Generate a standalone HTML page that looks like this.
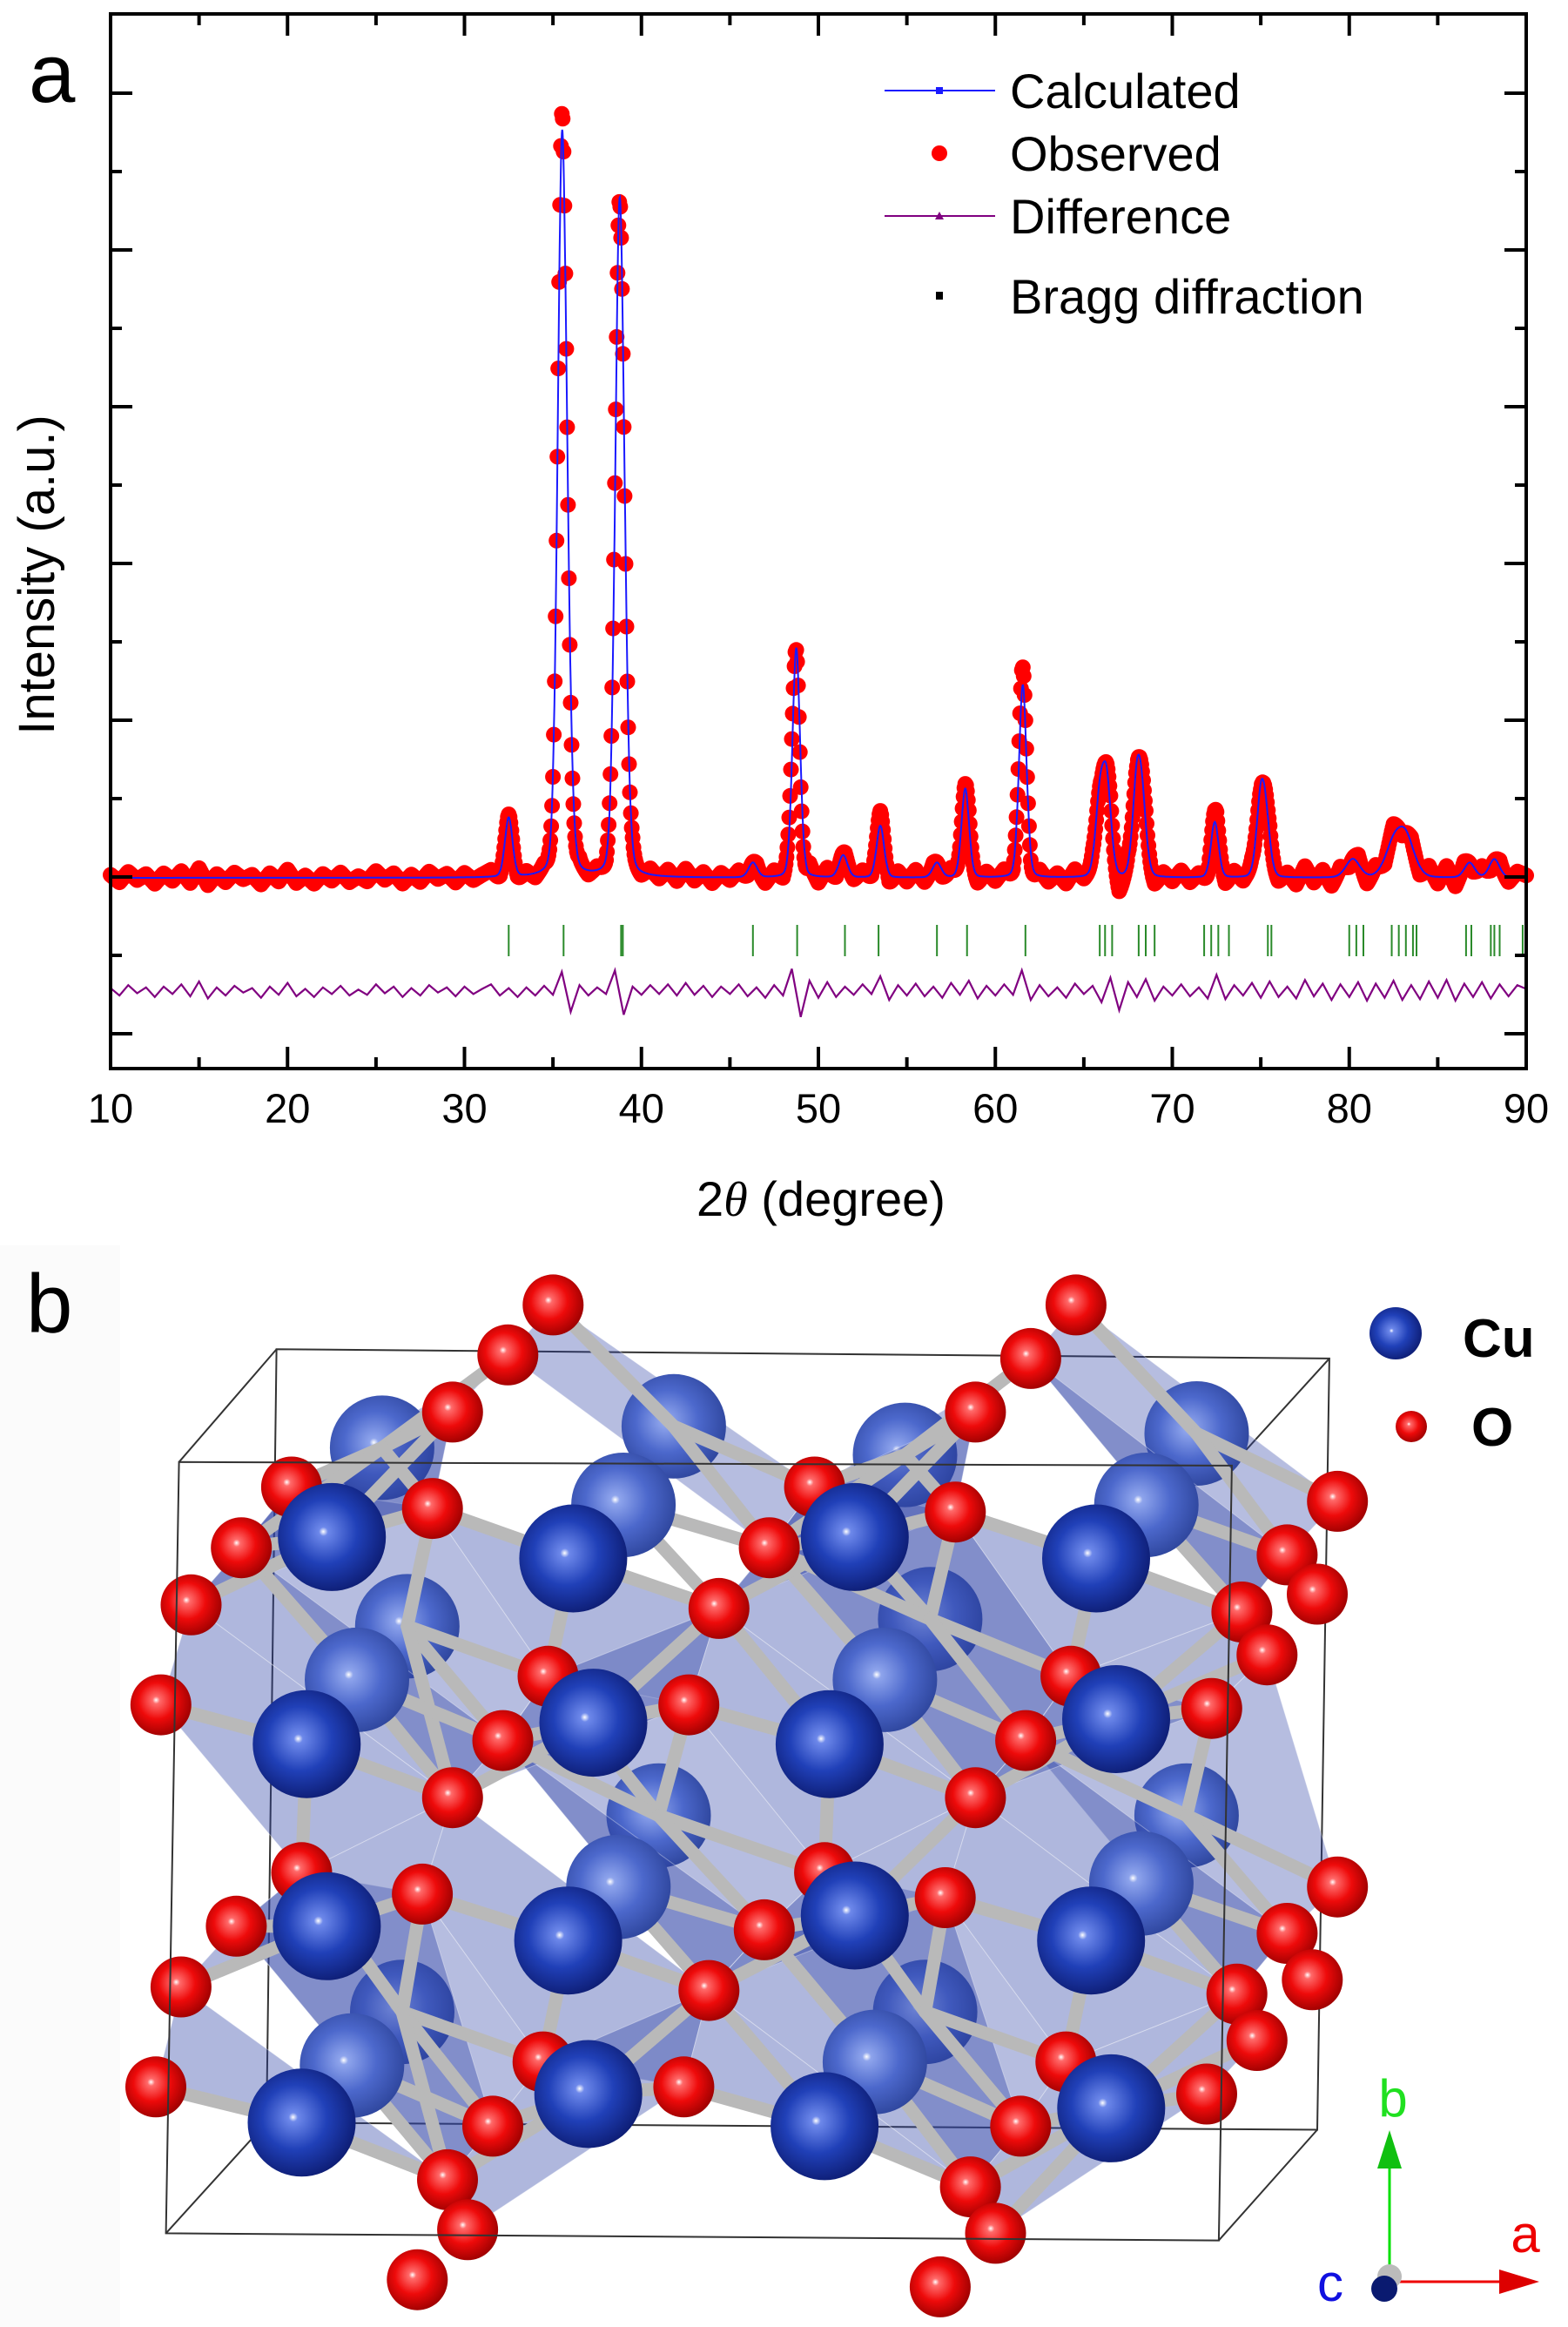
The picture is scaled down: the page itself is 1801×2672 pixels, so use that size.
<!DOCTYPE html>
<html><head><meta charset="utf-8"><style>
html,body{margin:0;padding:0;background:#fff;}
svg{display:block;font-family:"Liberation Sans",Arial,sans-serif;}
</style></head><body>
<svg id="fig" width="1801" height="2672" viewBox="0 0 1801 2672" xmlns="http://www.w3.org/2000/svg">
<defs>
<radialGradient id="gCu" cx="0.45" cy="0.45" r="0.6" fx="0.42" fy="0.45"><stop offset="0" stop-color="#ffffff"/><stop offset="0.07" stop-color="#6d88ea"/><stop offset="0.5" stop-color="#2040b8"/><stop offset="1" stop-color="#0c1a6e"/></radialGradient>
<radialGradient id="gCuL" cx="0.45" cy="0.45" r="0.6" fx="0.42" fy="0.45"><stop offset="0" stop-color="#ffffff"/><stop offset="0.07" stop-color="#8ea4ec"/><stop offset="0.5" stop-color="#4c68cc"/><stop offset="1" stop-color="#2c4399"/></radialGradient>
<radialGradient id="gO" cx="0.45" cy="0.45" r="0.6" fx="0.42" fy="0.42"><stop offset="0" stop-color="#ffffff"/><stop offset="0.1" stop-color="#ff6a6a"/><stop offset="0.5" stop-color="#ee0a0a"/><stop offset="1" stop-color="#960000"/></radialGradient>
</defs>
<g id="panelA"></g>
<g id="panelB"></g>
</svg>
<script>
// ---- chart data ----
const xTicks = [10,20,30,40,50,60,70,80,90];
const peakPos = [32.5,35.5,35.8,38.75,39.0,46.3,48.75,51.4,53.5,56.7,58.3,61.55,65.9,66.3,68.0,68.3,72.4,75.0,75.3,80.2,82.5,83.2,86.8,88.2];
const peakHeight = [8,92,18,82,16,2,31,3,7,2,12,26,10,12,12,8,7.5,10,6,2.5,4,5,2,2.5];
const peakWidth = [0.22,0.25,0.25,0.25,0.25,0.25,0.22,0.25,0.22,0.25,0.22,0.22,0.25,0.25,0.25,0.25,0.22,0.25,0.25,0.4,0.5,0.5,0.3,0.3];
const diffStart = 10;
const diffStep = 0.5;
const diffValues = [
0.4,-0.6,0.8,-0.3,0.5,-0.8,0.6,-0.4,0.9,-0.7,1.3,-1.0,0.5,-0.6,0.7,-0.2,0.4,-0.9,0.6,-0.5,
1.1,-0.7,0.3,-0.8,0.5,-0.4,0.7,-0.6,0.2,-0.5,0.9,-0.3,0.6,-0.8,0.4,-0.6,0.8,-0.2,0.5,-0.7,
0.6,-0.4,0.3,0.9,-0.6,0.4,-0.8,0.5,-0.6,0.7,-0.5,2.6,-2.8,0.8,-0.6,0.5,-0.4,2.8,-3.2,0.6,
-0.5,0.8,-0.4,0.9,-0.6,1.1,-0.5,0.7,-0.8,0.6,-0.4,0.9,-0.7,0.5,-0.9,0.8,-0.6,3.0,-3.5,1.4,
-0.9,1.2,-0.8,0.6,-0.5,0.9,-0.4,2.0,-1.2,0.8,-0.6,1.0,-0.7,0.6,-0.9,1.1,-0.5,1.4,-1.0,0.7,
-0.6,0.9,-0.5,2.8,-1.2,0.8,-0.7,0.5,-0.9,1.0,-0.4,0.7,-1.5,1.8,-2.6,1.2,-0.8,1.6,-1.3,0.6,
-0.6,0.9,-0.7,0.5,-1.0,2.2,-1.1,0.8,-0.6,1.1,-0.9,1.3,-0.8,0.6,-1.0,1.5,-0.7,1.0,-1.2,0.9,
-0.8,1.2,-1.3,1.0,-0.9,1.4,-1.2,0.8,-1.1,1.3,-0.9,1.5,-1.3,1.0,-0.8,1.2,-1.0,0.9,-0.7,0.8,
0.3];
const braggPos = [32.5,35.6,38.85,38.95,46.3,48.8,51.5,53.4,56.7,58.4,61.7,65.9,66.2,66.6,68.1,68.5,69.0,71.8,72.2,72.6,73.2,75.4,75.6,80.0,80.4,80.8,82.4,82.8,83.2,83.6,83.8,86.6,86.9,88.0,88.2,88.5,89.8];

const NS = "http://www.w3.org/2000/svg";
function mk(tag, attrs, parent){const e=document.createElementNS(NS,tag);for(const k in attrs)e.setAttribute(k,attrs[k]);parent.appendChild(e);return e;}

const L=127,R=1753,T=16,B=1227;
const xS = v => L + (v-10)*(R-L)/80;
const I0 = 1008, IK = 8.5;
const yS = I => I0 - I*IK;
const DIFF0 = 1138;
const yD = d => DIFF0 - d*IK;

function calc(x){let s=0;for(let i=0;i<peakPos.length;i++){const d=(x-peakPos[i])/peakWidth[i];s+=peakHeight[i]*(0.8*Math.exp(-0.5*d*d)+0.2/(1+d*d));}return s;}
function diffAt(x){const f=(x-diffStart)/diffStep;const i=Math.max(0,Math.min(diffValues.length-2,Math.floor(f)));const t=f-i;return diffValues[i]*(1-t)+diffValues[i+1]*t;}

const A = document.getElementById('panelA');

const obsG = mk('g',{},A);


for(let x=10;x<=90.001;x+=0.05){
  const c=mk('circle',{cx:xS(x).toFixed(1),cy:yS(calc(x)+diffAt(x)).toFixed(1),r:9,fill:'#ff0000'},obsG);
  
  
}
let p='';
for(let x=10;x<=90.001;x+=0.02){p+=(p?'L':'M')+xS(x).toFixed(1)+','+yS(calc(x)).toFixed(1);}
const cl=mk('path',{d:p,fill:'none',stroke:'#1a1aff','stroke-width':2},A);


const bg=mk('g',{},A);


braggPos.forEach(v=>{
  const l=mk('line',{x1:xS(v),x2:xS(v),y1:1062,y2:1098,stroke:'#2a8a2a','stroke-width':2},bg);
  
  
});
p='';
diffValues.forEach((d,i)=>{const x=diffStart+i*diffStep;p+=(i?'L':'M')+xS(x).toFixed(1)+','+yD(d).toFixed(1);});
const dl=mk('path',{d:p,fill:'none',stroke:'#800080','stroke-width':2.2},A);



const fr=mk('rect',{x:L,y:T,width:R-L,height:B-T,fill:'none',stroke:'#000','stroke-width':4},A);


for(let v=10;v<=90;v+=5){
  const len=(v%10===0)?25:13;
  mk('line',{x1:xS(v),x2:xS(v),y1:B,y2:B-len,stroke:'#000','stroke-width':4},A);
  mk('line',{x1:xS(v),x2:xS(v),y1:T,y2:T+len,stroke:'#000','stroke-width':4},A);
}
xTicks.forEach(v=>{
  const t=mk('text',{x:xS(v),y:1289,'font-size':47,'text-anchor':'middle',fill:'#000'},A);
  t.textContent=v;
  
  
});
for(let k=0;k<13;k++){
  const y=107+k*90; if(y>B-5)break;
  const len=(k%2===0)?25:13;
  mk('line',{x1:L,x2:L+len,y1:y,y2:y,stroke:'#000','stroke-width':4},A);
  mk('line',{x1:R,x2:R-len,y1:y,y2:y,stroke:'#000','stroke-width':4},A);
}
let t=mk('text',{x:943,y:1396,'font-size':56,'text-anchor':'middle',fill:'#000'},A);
t.innerHTML='2<tspan font-style="italic" font-family="Liberation Serif, serif">θ</tspan> (degree)';


t=mk('text',{x:0,y:0,'font-size':58,'text-anchor':'middle',fill:'#000',transform:'translate(62,660) rotate(-90)'},A);
t.textContent='Intensity (a.u.)';


t=mk('text',{x:33,y:117,'font-size':96,fill:'#000'},A);
t.textContent='a';



const lg=mk('g',{},A);


const legRows=[['Calculated',104],['Observed',176],['Difference',248],['Bragg diffraction',340]];
legRows.forEach((r,i)=>{
  const g=mk('g',{},lg);
  
  
  if(i===0){mk('line',{x1:1016,x2:1143,y1:r[1],y2:r[1],stroke:'#1a1aff','stroke-width':2},g);mk('rect',{x:1075,y:r[1]-4,width:8,height:8,fill:'#1a1aff'},g);}
  if(i===1){mk('circle',{cx:1079,cy:r[1],r:9,fill:'#ff0000'},g);}
  if(i===2){mk('line',{x1:1016,x2:1143,y1:r[1],y2:r[1],stroke:'#800080','stroke-width':2},g);mk('path',{d:`M1074,${r[1]+4} L1079,${r[1]-5} L1084,${r[1]+4}Z`,fill:'#800080'},g);}
  if(i===3){mk('rect',{x:1075,y:r[1]-5,width:8,height:9,fill:'#000'},g);}
  const tx=mk('text',{x:1160,y:r[1]+20,'font-size':56,fill:'#000'},g);
  tx.textContent=r[0];
});

// ---- panel b ----
const Bp=document.getElementById('panelB');
const X=x=>x*1.155, Y=y=>1400+y*0.82;
mk('rect',{x:0,y:1430,width:138,height:1242,fill:'#fbfbfb'},Bp);
const lightCu=[[380,320],[670,290],[900,330],[1190,300],[405,570],[925,560],[655,835],[1180,835],[400,1110],[920,1110]];
const midCu=[[620,400],[1140,400],[355,645],[880,645],[615,935],[1135,930],[350,1185],[870,1180]];
const darkCu=[[330,445],[570,475],[850,445],[1090,475],[305,735],[590,705],[825,735],[1110,700],[325,990],[565,1010],[850,975],[1085,1010],[300,1265],[585,1225],[820,1270],[1105,1245]];
const oxy=[[550,120],[1070,120],[505,190],[1025,195],[450,270],[970,270],[290,375],[810,375],[1330,395],[430,405],[950,410],[240,460],[765,460],[1280,470],[190,540],[715,545],[1235,550],[1310,525],[1260,610],[545,640],[1065,640],[160,680],[685,680],[1205,685],[500,730],[1020,730],[450,810],[970,810],[420,945],[940,950],[300,915],[820,915],[1330,935],[235,990],[760,995],[1280,1000],[180,1075],[705,1080],[1230,1085],[1305,1065],[1250,1150],[540,1180],[1060,1180],[155,1215],[680,1215],[1200,1225],[490,1270],[1015,1270],[445,1345],[965,1355],[465,1415],[990,1420],[415,1485],[935,1495]];
const box=mk('g',{fill:'none',stroke:'#333','stroke-width':2},Bp);


const bk=[[275,182],[1322,195],[1310,1275],[265,1265]], ft=[[178,340],[1225,345],[1212,1430],[165,1420]];
const poly=a=>a.map(q=>X(q[0]).toFixed(1)+','+Y(q[1]).toFixed(1)).join(' ');
mk('polygon',{points:poly(bk)},box);
for(let i=0;i<4;i++)mk('line',{x1:X(bk[i][0]),y1:Y(bk[i][1]),x2:X(ft[i][0]),y2:Y(ft[i][1])},box);
function sphere(q,r,fill,name,op){const c=mk('circle',{cx:X(q[0]).toFixed(1),cy:Y(q[1]).toFixed(1),r:r,fill:fill,opacity:op||1},Bp);}
const dist=(a,b)=>Math.hypot(X(a[0])-X(b[0]),Y(a[1])-Y(b[1]));
const allCu=lightCu.concat(midCu,darkCu);
// back plaquettes first
function plaq(c,th,alpha){
  const n=oxy.filter(o=>dist(c,o)<th).sort((a,b)=>Math.atan2(Y(a[1])-Y(c[1]),X(a[0])-X(c[0]))-Math.atan2(Y(b[1])-Y(c[1]),X(b[0])-X(c[0])));
  if(n.length>=3){const pg=mk('polygon',{points:poly(n),fill:`rgba(45,65,165,${alpha})`,stroke:'rgba(255,255,255,0.35)','stroke-width':1},Bp);}
}
lightCu.forEach(c=>plaq(c,215,0.35));
lightCu.forEach(q=>sphere(q,60,'url(#gCuL)','cu-atom'));
midCu.concat(darkCu).forEach(c=>plaq(c,215,0.38));
allCu.forEach(c=>{oxy.forEach(o=>{if(dist(c,o)<205){const l=mk('line',{x1:X(c[0]),y1:Y(c[1]),x2:X(o[0]),y2:Y(o[1]),stroke:'#b9b9b9','stroke-width':15,'stroke-linecap':'round'},Bp);}});});
midCu.forEach(q=>sphere(q,60,'url(#gCuL)','cu-atom'));
oxy.forEach(q=>sphere(q,35,'url(#gO)','o-atom'));
darkCu.forEach(q=>sphere(q,62,'url(#gCu)','cu-atom'));
mk('polygon',{points:poly(ft),fill:'none',stroke:'#333','stroke-width':2},Bp);
t=mk('text',{x:30,y:1530,'font-size':96,fill:'#000'},Bp);t.textContent='b';

mk('circle',{cx:1603,cy:1531,r:30,fill:'url(#gCu)'},Bp);
t=mk('text',{x:1680,y:1558,'font-size':62,'font-weight':'bold',fill:'#000'},Bp);t.textContent='Cu';

mk('circle',{cx:1621,cy:1638,r:18,fill:'url(#gO)'},Bp);
t=mk('text',{x:1690,y:1660,'font-size':62,'font-weight':'bold',fill:'#000'},Bp);t.textContent='O';

const ax=mk('g',{},Bp);

mk('line',{x1:1596,y1:2618,x2:1596,y2:2480,stroke:'#00e000','stroke-width':3},ax);
mk('path',{d:'M1582,2490 L1596,2446 L1610,2490Z',fill:'#10c010'},ax);
mk('line',{x1:1600,y1:2620,x2:1730,y2:2620,stroke:'#ee0000','stroke-width':3},ax);
mk('path',{d:'M1722,2606 L1768,2620 L1722,2634Z',fill:'#dd0000'},ax);
mk('circle',{cx:1596,cy:2614,r:14,fill:'#bbb'},ax);
mk('circle',{cx:1590,cy:2628,r:15,fill:'#0a1a70'},ax);
t=mk('text',{x:1600,y:2430,'font-size':60,'text-anchor':'middle',fill:'#20e020'},ax);t.textContent='b';
t=mk('text',{x:1752,y:2586,'font-size':60,'text-anchor':'middle',fill:'#ee0000'},ax);t.textContent='a';
t=mk('text',{x:1528,y:2642,'font-size':60,'text-anchor':'middle',fill:'#1010e0'},ax);t.textContent='c';
</script>
</body></html>
